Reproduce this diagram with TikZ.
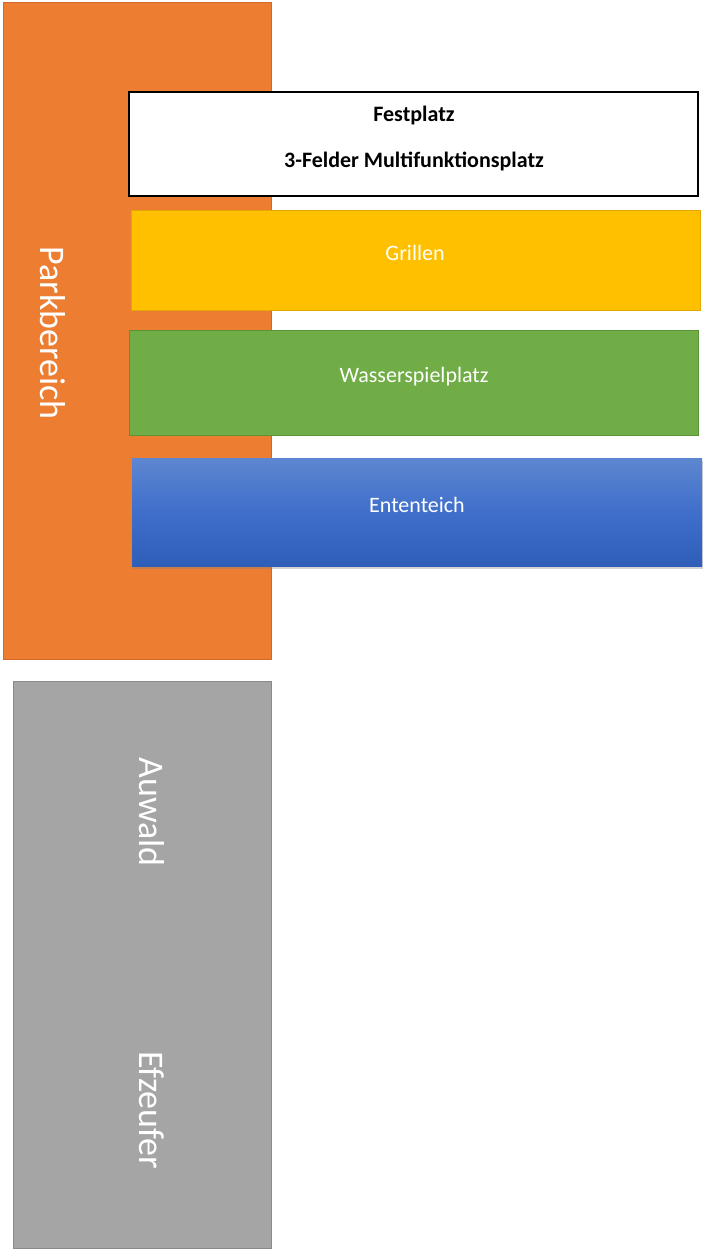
\documentclass[tikz,border=0pt]{standalone}
\usepackage{fontspec}
\setmainfont{Carlito}
\usetikzlibrary{shadows}

\definecolor{parkorange}{HTML}{ED7D31}
\definecolor{parkedge}{HTML}{D0692A}
\definecolor{waldgray}{HTML}{A5A5A5}
\definecolor{waldedge}{HTML}{8A8A8A}
\definecolor{grillgelb}{HTML}{FFC000}
\definecolor{grilledge}{HTML}{E0A800}
\definecolor{wassergruen}{HTML}{70AD47}
\definecolor{wasseredge}{HTML}{5A9236}
\definecolor{teichoben}{HTML}{5E86D0}
\definecolor{teichmitte}{HTML}{3F6FCB}
\definecolor{teichunten}{HTML}{2E5EB8}

\tikzset{
    bigtext/.style={font=\fontsize{36}{40}\selectfont, text=white, rotate=-90},
    smalltext/.style={font=\fontsize{22}{26}\selectfont, text=white},
    boldtext/.style={font=\fontsize{22}{26}\selectfont\bfseries, text=black}
}

\begin{document}
\begin{tikzpicture}[x=1pt, y=-1pt]
        \useasboundingbox (0,0) rectangle (702,1250);
        % linke Spalte
        \draw [fill=parkorange, draw=parkedge, line width=1pt] (3,2) rectangle (271,659)
            node (park) at (53,333) [bigtext] {Parkbereich};
        \draw [fill=waldgray, draw=waldedge, line width=1pt] (13,681) rectangle (271,1248)
            node (auwald) at (152,812) [bigtext] {Auwald}
            node (efzeufer) at (152,1110) [bigtext] {Efzeufer};
        % Bereiche rechts
        \draw [fill=white, draw=black, line width=1.3pt] (129,92) rectangle (698,196)
            node (fest) at (414,116) [boldtext] {Festplatz}
            node (multi) at (414,161) [boldtext] {3-Felder Multifunktionsplatz};
        \draw [fill=grillgelb, draw=grilledge, line width=1pt] (131,210) rectangle (700,310)
            node (grill) at (415,253) [smalltext] {Grillen};
        \draw [fill=wassergruen, draw=wasseredge, line width=1pt] (129,330) rectangle (698,435)
            node (wasser) at (414,377) [smalltext] {Wasserspielplatz};
        \shade [top color=teichoben, bottom color=teichunten, middle color=teichmitte,
                drop shadow={shadow xshift=1pt, shadow yshift=-3pt, opacity=0.35}]
            (132,458) rectangle (702,566)
            node (teich) at (417,505) [smalltext] {Ententeich};
    \end{tikzpicture}
\end{document}
